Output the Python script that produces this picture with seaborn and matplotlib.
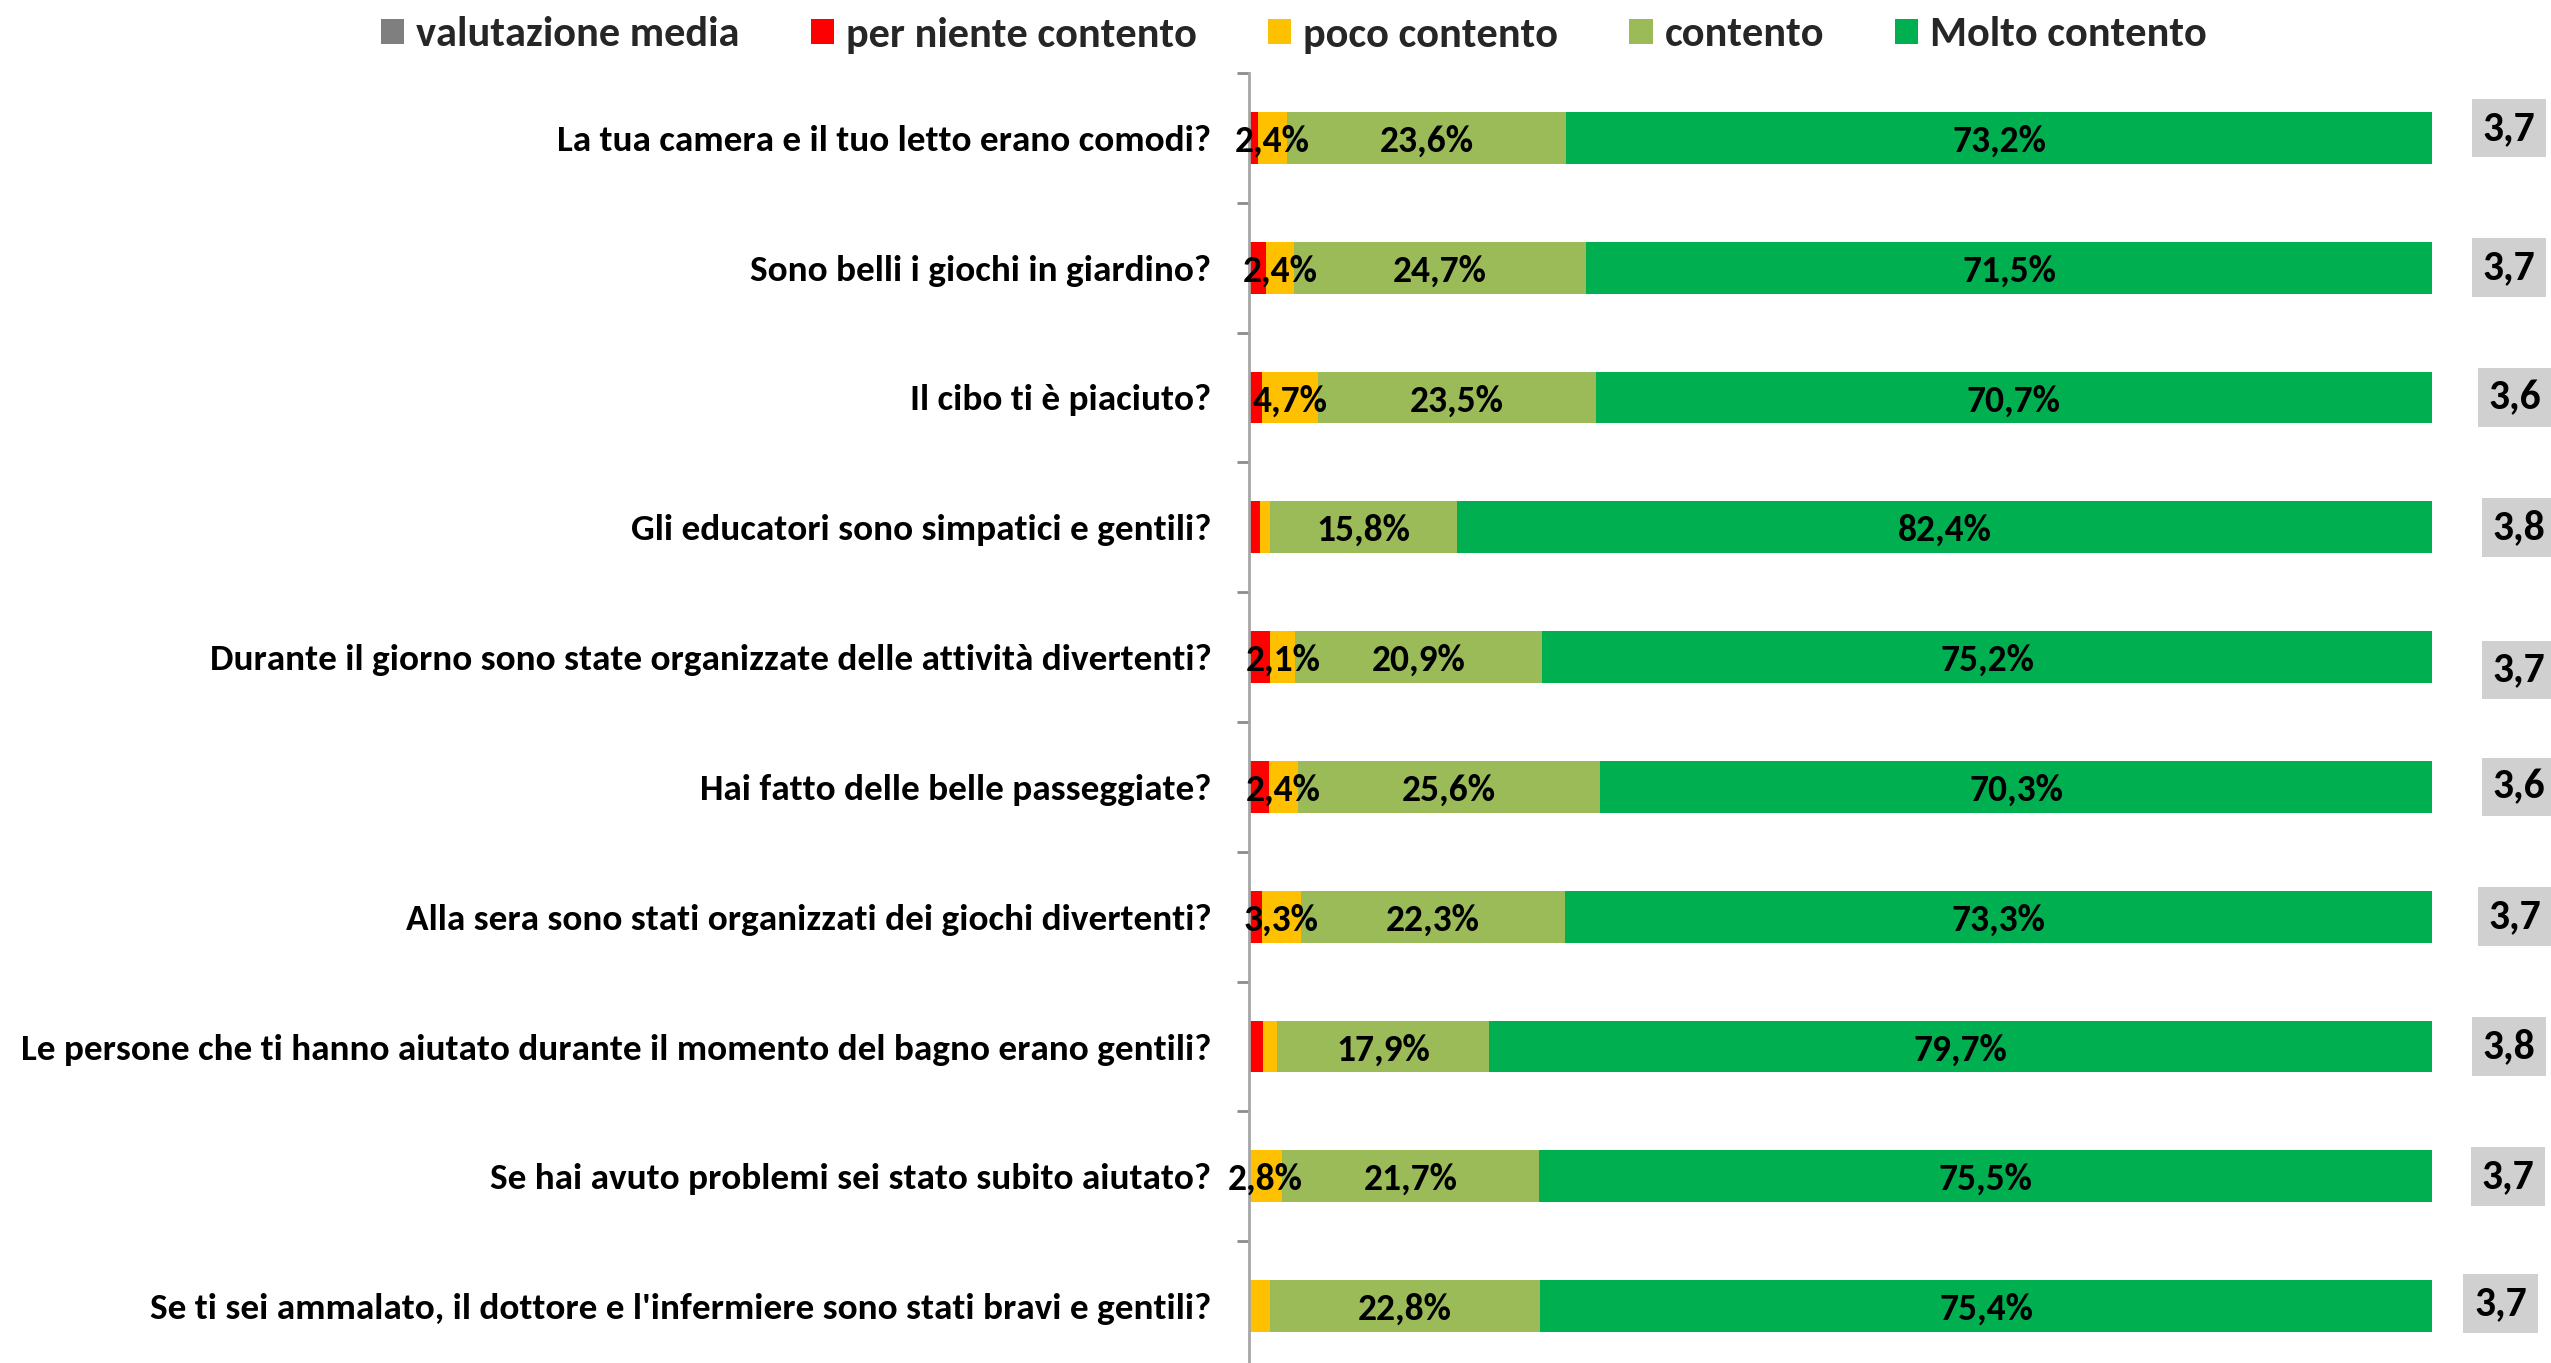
import numpy as np
import pandas as pd
import matplotlib
matplotlib.use("Agg")
import matplotlib.pyplot as plt
import seaborn as sns
from matplotlib.patches import Patch

# ---------------- data ----------------
questions = [
    "La tua camera e il tuo letto erano comodi?",
    "Sono belli i giochi in giardino?",
    "Il cibo ti è piaciuto?",
    "Gli educatori sono simpatici e gentili?",
    "Durante il giorno sono state organizzate delle attività divertenti?",
    "Hai fatto delle belle passeggiate?",
    "Alla sera sono stati organizzati dei giochi divertenti?",
    "Le persone che ti hanno aiutato durante il momento del bagno erano gentili?",
    "Se hai avuto problemi sei stato subito aiutato?",
    "Se ti sei ammalato, il dottore e l'infermiere sono stati bravi e gentili?",
]
per_niente = [0.8, 1.4, 1.1, 0.9, 1.8, 1.7, 1.1, 1.2, 0.0, 0.0]
poco = [2.4, 2.4, 4.7, 0.9, 2.1, 2.4, 3.3, 1.2, 2.8, 1.8]
contento = [23.6, 24.7, 23.5, 15.8, 20.9, 25.6, 22.3, 17.9, 21.7, 22.8]
molto = [73.2, 71.5, 70.7, 82.4, 75.2, 70.3, 73.3, 79.7, 75.5, 75.4]
media = [3.7, 3.7, 3.6, 3.8, 3.7, 3.6, 3.7, 3.8, 3.7, 3.7]
series_names = ["per niente contento", "poco contento", "contento", "Molto contento"]
legend_labels = ["valutazione media"] + series_names

# ---------------- layout of the average labels (style only) ----------------
avg_x = [106.5, 106.5, 107.0, 107.35, 107.35, 107.35, 107.0, 106.5, 106.4, 105.8]
avg_dy = [-0.075, 0.0, 0.0, 0.0, 0.1, 0.0, 0.0, 0.0, 0.0, -0.02]

# ---------------- style ----------------
colors = ["#FF0000", "#FFC000", "#9BBB59", "#00B050"]
grey_legend = "#7F7F7F"
box_grey = "#D0D0D0"
FS_TICK = 26.8
FS_LAB = 27
FS_AVG = 30
FS_LEG = 30.5

sns.set_theme(style="white")
plt.rcParams["font.family"] = ["Carlito", "DejaVu Sans"]
plt.rcParams["font.weight"] = "bold"

fig = plt.figure(figsize=(25.51, 13.63), dpi=100)
W, H = 2551, 1363
ax = fig.add_axes([1249 / W, (H - 1371) / H, (2432 - 1249) / W, (1371 - 73) / H])

values = np.array([per_niente, poco, contento, molto])
cum = np.cumsum(values, axis=0)
starts = cum - values

for i in reversed(range(4)):
    sns.barplot(x=cum[i], y=questions, order=questions, orient="h",
                color=colors[i], saturation=1, width=0.4, errorbar=None,
                linewidth=0, ax=ax)

ax.set_xlim(0, 100)
ax.set_ylim(9.5, -0.5)
ax.set_xlabel("")
ax.set_ylabel("")
ax.set_xticks([])

for s in ["top", "right", "bottom"]:
    ax.spines[s].set_visible(False)
ax.spines["left"].set_color("#A6A6A6")
ax.spines["left"].set_linewidth(2)

ax.set_yticks(np.arange(-0.5, 9.5, 1), minor=True)
ax.tick_params(axis="y", which="minor", left=True, length=9, width=2, color="#8C8C8C")
ax.tick_params(axis="y", which="major", left=False, length=0, pad=27, labelsize=FS_TICK,
               labelcolor="black")
for t in ax.get_yticklabels():
    t.set_fontweight("bold")


def fmt(v):
    return f"{v:.1f}%".replace(".", ",")


for r in range(len(questions)):
    for k in (1, 2, 3):
        v = values[k][r]
        if v >= 2:
            ax.text(starts[k][r] + v / 2, r + 0.025, fmt(v), ha="center", va="center",
                    fontsize=FS_LAB, fontweight="bold", color="black")
    ax.text(avg_x[r], r + avg_dy[r], f"{media[r]:.1f}".replace(".", ","), ha="center",
            va="center", fontsize=FS_AVG, fontweight="bold", color="black",
            clip_on=False,
            bbox=dict(boxstyle="square,pad=0.26", fc=box_grey, ec="none"))

handles = [Patch(facecolor=c, edgecolor="none") for c in [grey_legend] + colors]
fig.legend(handles, legend_labels, loc="center", bbox_to_anchor=(1294 / W, 1 - 35 / H),
           ncol=5, frameon=False, columnspacing=1.68, handletextpad=0.28,
           handlelength=0.55, handleheight=0.55,
           prop={"size": FS_LEG, "weight": "bold"})

fig.savefig("out.png", dpi=100)
